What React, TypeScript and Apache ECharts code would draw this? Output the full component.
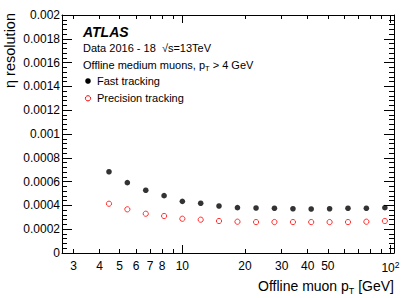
import React, { useEffect, useRef } from 'react';
import * as echarts from 'echarts';

// Offline muon pT bin centres [GeV]
const ptValues = [4.44, 5.44, 6.67, 8.17, 10.0, 12.25, 15.0, 18.4, 22.6, 27.7, 34.0, 41.6, 51.0, 62.5, 76.6, 94.0];
// eta resolution, fast tracking
const fastRes = [0.000683, 0.000591, 0.000527, 0.000482, 0.000434, 0.000418, 0.000395, 0.000381, 0.000378, 0.000376, 0.000372, 0.00037, 0.000372, 0.000376, 0.000376, 0.000381];
// eta resolution, precision tracking
const precRes = [0.000414, 0.000367, 0.00033, 0.000311, 0.000288, 0.00028, 0.000269, 0.000263, 0.00026, 0.00026, 0.00026, 0.00026, 0.00026, 0.00026, 0.000263, 0.000269];

const xLabelValues = [3, 4, 5, 6, 7, 8, 10, 20, 30, 40, 50, 100];
const xShortTicks = [3, 4, 5, 6, 7, 8, 9, 20, 30, 40, 50, 60, 70, 80, 90];
const xLongTicks = [10, 100];
const xMin = 2.64;
const xMax = 104;
const yMin = 0;
const yMax = 0.002;
const yStep = 0.0002;

const FONT = "'Liberation Sans', Arial, Helvetica, sans-serif";
const lg = (v: number) => Math.log10(v);

export default function App() {
  const ref = useRef<HTMLDivElement>(null);
  useEffect(() => {
    if (!ref.current) return;
    const chart = echarts.init(ref.current, null, { renderer: 'svg' });
    const lx = lg(xMin);
    const hx = lg(xMax);
    const black = '#000';
    const baseX = {
      type: 'value' as const,
      min: lx,
      max: hx,
      splitLine: { show: false },
    };
    const yBase = {
      type: 'value' as const,
      min: yMin,
      max: yMax,
      interval: yStep,
      splitLine: { show: false },
      axisLine: { show: true, onZero: false, lineStyle: { color: black, width: 1 } },
      axisTick: { show: true, inside: true, length: 10, lineStyle: { color: black } },
      minorTick: { show: true, splitNumber: 5, length: 5, lineStyle: { color: black } },
    };
    const xAxes = [
      {
        ...baseX,
        position: 'bottom',
        axisLine: { show: true, onZero: false, lineStyle: { color: black, width: 1 } },
        axisTick: { show: true, inside: true, length: 4, customValues: xShortTicks.map(lg), lineStyle: { color: black } },
        axisLabel: {
          show: true,
          customValues: xLabelValues.map(lg),
          formatter: (v: number) => {
            const n = Math.round(Math.pow(10, v));
            return n === 100 ? '{n|10}{s|2}' : '{n|' + n + '}';
          },
          rich: {
            n: { fontSize: 12, fontFamily: FONT, color: black },
            s: { fontSize: 8.5, fontFamily: FONT, color: black, padding: [0, 0, 6, 0] },
          },
          margin: 7,
          hideOverlap: false,
        },
      },
      {
        ...baseX,
        position: 'bottom',
        axisLine: { show: false, onZero: false },
        axisTick: { show: true, inside: true, length: 8, customValues: xLongTicks.map(lg), lineStyle: { color: black } },
        axisLabel: { show: false },
      },
      {
        ...baseX,
        position: 'top',
        axisLine: { show: true, onZero: false, lineStyle: { color: black, width: 1 } },
        axisTick: { show: true, inside: true, length: 4, customValues: xShortTicks.map(lg), lineStyle: { color: black } },
        axisLabel: { show: false },
      },
      {
        ...baseX,
        position: 'top',
        axisLine: { show: false, onZero: false },
        axisTick: { show: true, inside: true, length: 8, customValues: xLongTicks.map(lg), lineStyle: { color: black } },
        axisLabel: { show: false },
      },
    ];
    const yAxes = [
      {
        ...yBase,
        position: 'left',
        axisLabel: {
          show: true,
          fontSize: 12,
          fontFamily: FONT,
          color: black,
          margin: 2,
          formatter: (v: number) => (v === 0 ? '0' : String(parseFloat(v.toPrecision(4)))),
        },
      },
      {
        ...yBase,
        position: 'right',
        axisLabel: { show: false },
      },
    ];
    chart.setOption({
      animation: false,
      backgroundColor: '#fff',
      grid: { left: 62, right: 21, top: 15, bottom: 45, outerBoundsMode: 'none' },
      xAxis: xAxes,
      yAxis: yAxes,
      series: [
        {
          type: 'scatter',
          name: 'Fast tracking',
          xAxisIndex: 0,
          yAxisIndex: 0,
          symbol: 'circle',
          symbolSize: 5.6,
          itemStyle: { color: black },
          data: ptValues.map((x, i) => [lg(x), fastRes[i]]),
        },
        {
          type: 'scatter',
          name: 'Precision tracking',
          xAxisIndex: 0,
          yAxisIndex: 0,
          symbol: 'circle',
          symbolSize: 5.2,
          itemStyle: { color: '#fff', borderColor: '#ff0000', borderWidth: 1 },
          data: ptValues.map((x, i) => [lg(x), precRes[i]]),
        },
      ],
      graphic: [
        {
          type: 'text',
          x: 10,
          y: 13,
          rotation: Math.PI / 2,
          style: { text: 'η resolution', fontSize: 14.5, fontFamily: FONT, fill: black, align: 'right', verticalAlign: 'middle' },
        },
        {
          type: 'text',
          x: 394,
          y: 286,
          style: {
            text: '{a|Offline muon p}{s|T}{a| [GeV]}',
            align: 'right',
            verticalAlign: 'middle',
            rich: {
              a: { fontSize: 14, fontFamily: FONT, fill: black },
              s: { fontSize: 9, fontFamily: FONT, fill: black, padding: [9, 0, 0, 0] },
            },
          },
        },
        {
          type: 'text',
          x: 83,
          y: 31.5,
          style: { text: 'ATLAS', fontSize: 14, fontWeight: 'bold', fontStyle: 'italic', fontFamily: FONT, fill: black, verticalAlign: 'middle' },
        },
        {
          type: 'text',
          x: 83,
          y: 47.5,
          style: { text: 'Data 2016 - 18  √s=13TeV', fontSize: 11, fontFamily: FONT, fill: black, verticalAlign: 'middle' },
        },
        {
          type: 'text',
          x: 83,
          y: 65,
          style: {
            text: '{a|Offline medium muons, p}{s|T}{a| > 4 GeV}',
            verticalAlign: 'middle',
            rich: {
              a: { fontSize: 11, fontFamily: FONT, fill: black },
              s: { fontSize: 7.5, fontFamily: FONT, fill: black, padding: [7, 0, 0, 0] },
            },
          },
        },
        { type: 'circle', shape: { cx: 88, cy: 81, r: 2.8 }, style: { fill: black } },
        {
          type: 'text',
          x: 97,
          y: 81,
          style: { text: 'Fast tracking', fontSize: 11, fontFamily: FONT, fill: black, verticalAlign: 'middle' },
        },
        { type: 'circle', shape: { cx: 88, cy: 98.3, r: 2.6 }, style: { fill: '#fff', stroke: '#ff0000', lineWidth: 1 } },
        {
          type: 'text',
          x: 97,
          y: 98.3,
          style: { text: 'Precision tracking', fontSize: 11, fontFamily: FONT, fill: black, verticalAlign: 'middle' },
        },
      ],
    });
    return () => chart.dispose();
  }, []);
  return <div ref={ref} style={{ position: 'fixed', left: 0, top: 0, width: 415, height: 298 }} />;
}
